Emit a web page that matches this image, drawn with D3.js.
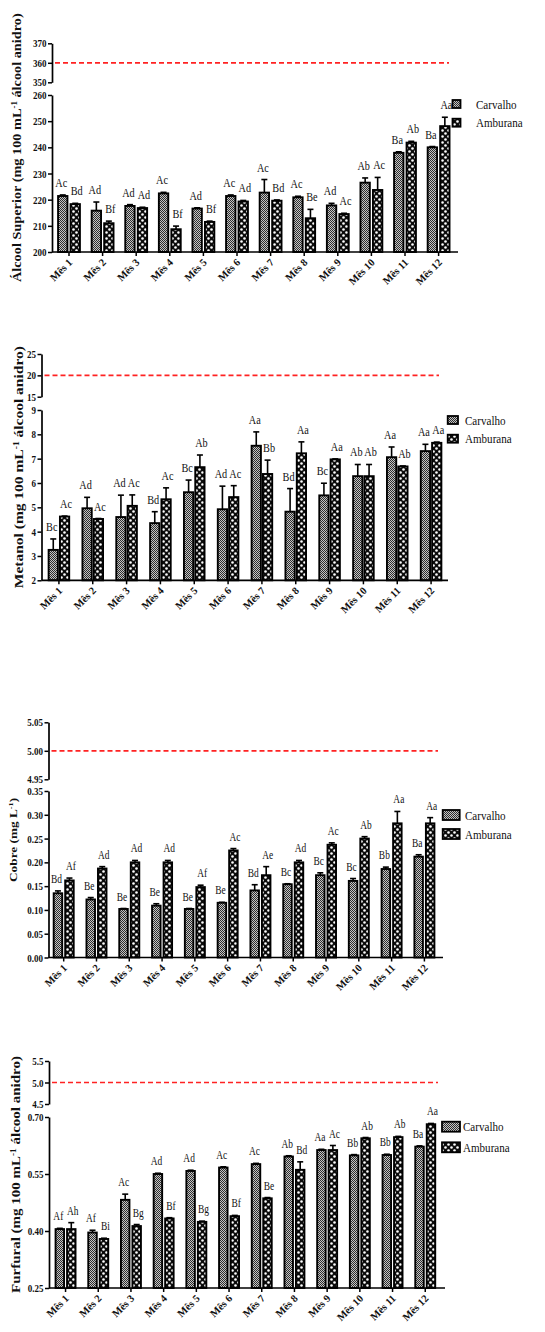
<!DOCTYPE html>
<html>
<head>
<meta charset="utf-8">
<script src="https://cdn.jsdelivr.net/npm/d3@7"></script>
<style>
  html, body { margin: 0; padding: 0; background: #fff; }
  svg { display: block; }
</style>
</head>
<body>
<svg id="chart" width="545" height="1332"></svg>
<script>
// ---- data ----
const months = ["Mês 1", "Mês 2", "Mês 3", "Mês 4", "Mês 5", "Mês 6", "Mês 7", "Mês 8", "Mês 9", "Mês 10", "Mês 11", "Mês 12"];
const series = ["Carvalho", "Amburana"];

// Álcool superior (mg 100 mL-1 álcool anidro)
const alcoolCarvalho    = [221.4, 215.8, 217.6, 222.4, 216.6, 221.4, 222.7, 220.9, 217.8, 226.5, 237.9, 240.0];
const alcoolCarvalhoErr = [0.4, 3.3, 0.5, 0.4, 0.3, 0.4, 5.0, 0.4, 0.8, 1.8, 0.4, 0.3];
const alcoolAmburana    = [218.3, 211.0, 216.8, 208.7, 211.5, 219.3, 219.6, 212.9, 214.5, 223.7, 241.8, 248.1];
const alcoolAmburanaErr = [0.3, 0.8, 0.3, 1.2, 0.3, 0.4, 0.3, 3.4, 0.3, 4.8, 0.5, 3.4];
const alcoolCarvalhoLetters = ["Ac", "Ad", "Ad", "Ac", "Ad", "Ac", "Ac", "Ac", "Ad", "Ab", "Ba", "Ba"];
const alcoolAmburanaLetters = ["Bd", "Bf", "Ad", "Bf", "Bf", "Ad", "Bd", "Be", "Ac", "Ac", "Ab", "Aa"];
const alcoolTopTicks = [350, 360, 370];
const alcoolTicks = [200, 210, 220, 230, 240, 250, 260];
const alcoolLimit = 360;

// Metanol (mg 100 mL-1 álcool anidro)
const metanolCarvalho    = [3.25, 4.96, 4.60, 4.35, 5.62, 4.92, 7.53, 4.82, 5.49, 6.28, 7.06, 7.31];
const metanolCarvalhoErr = [0.45, 0.45, 0.90, 0.47, 0.50, 0.95, 0.57, 0.95, 0.50, 0.48, 0.42, 0.28];
const metanolAmburana    = [4.62, 4.52, 5.06, 5.33, 6.65, 5.42, 6.37, 7.22, 6.97, 6.28, 6.68, 7.65];
const metanolAmburanaErr = [0.02, 0.02, 0.45, 0.47, 0.50, 0.47, 0.57, 0.47, 0.02, 0.48, 0.02, 0.03];
const metanolCarvalhoLetters = ["Bc", "Ad", "Ad", "Bd", "Bc", "Ad", "Aa", "Bd", "Bc", "Ab", "Aa", "Aa"];
const metanolAmburanaLetters = ["Ac", "Ac", "Ac", "Ac", "Ab", "Ac", "Bb", "Aa", "Aa", "Ab", "Ab", "Aa"];
const metanolTopTicks = [15, 20, 25];
const metanolTicks = [2, 3, 4, 5, 6, 7, 8, 9];
const metanolLimit = 20;

// Cobre (mg L-1)
const cobreCarvalho    = [0.135, 0.122, 0.102, 0.109, 0.102, 0.115, 0.141, 0.154, 0.173, 0.161, 0.186, 0.212];
const cobreCarvalhoErr = [0.005, 0.004, 0.001, 0.004, 0.001, 0.001, 0.012, 0.001, 0.005, 0.005, 0.004, 0.004];
const cobreAmburana    = [0.162, 0.187, 0.200, 0.200, 0.148, 0.225, 0.173, 0.200, 0.237, 0.250, 0.282, 0.282];
const cobreAmburanaErr = [0.005, 0.004, 0.004, 0.004, 0.004, 0.004, 0.018, 0.004, 0.004, 0.004, 0.025, 0.012];
const cobreCarvalhoLetters = ["Bd", "Be", "Be", "Be", "Be", "Be", "Bd", "Bc", "Bc", "Bc", "Bb", "Ba"];
const cobreAmburanaLetters = ["Af", "Ad", "Ad", "Ad", "Af", "Ac", "Ae", "Ad", "Ac", "Ab", "Aa", "Aa"];
const cobreTopTicks = [4.95, 5.00, 5.05];
const cobreTicks = [0.00, 0.05, 0.10, 0.15, 0.20, 0.25, 0.30, 0.35];
const cobreLimit = 5.00;

// Furfural (mg 100 mL-1 álcool anidro)
const furfuralCarvalho    = [0.405, 0.396, 0.482, 0.550, 0.558, 0.567, 0.576, 0.596, 0.613, 0.599, 0.600, 0.622];
const furfuralCarvalhoErr = [0.002, 0.006, 0.015, 0.002, 0.002, 0.002, 0.002, 0.002, 0.002, 0.002, 0.002, 0.002];
const furfuralAmburana    = [0.405, 0.379, 0.413, 0.433, 0.424, 0.439, 0.486, 0.561, 0.613, 0.644, 0.647, 0.681];
const furfuralAmburanaErr = [0.017, 0.002, 0.004, 0.002, 0.002, 0.002, 0.002, 0.021, 0.012, 0.002, 0.002, 0.002];
const furfuralCarvalhoLetters = ["Af", "Af", "Ac", "Ad", "Ad", "Ac", "Ac", "Ab", "Aa", "Bb", "Bb", "Ba"];
const furfuralAmburanaLetters = ["Ah", "Bi", "Bg", "Bf", "Bg", "Bf", "Be", "Bd", "Ac", "Ab", "Ab", "Aa"];
const furfuralTopTicks = [4.5, 5.0, 5.5];
const furfuralTicks = [0.25, 0.40, 0.55, 0.70];
const furfuralLimit = 5.0;

// ---- layout for each panel ----
const panels = [
  {
    title: ["Álcool Superior (mg 100 mL", "-1", " álcool anidro)"],
    values: [alcoolCarvalho, alcoolAmburana], errors: [alcoolCarvalhoErr, alcoolAmburanaErr],
    letters: [alcoolCarvalhoLetters, alcoolAmburanaLetters],
    topTicks: alcoolTopTicks, ticks: alcoolTicks, limit: alcoolLimit,
    topFmt: d3.format("d"), fmt: d3.format("d"),
    axisX: 52, band: [52.2, 455.4], xEnd: 458, redEnd: 449,
    topRange: [82.3, 43.3], mainRange: [252, 95],
    pi: 0.25, po: 0.47,
    titleX: 21, titleSize: 14.3, letterSize: 12.5,
    legend: { x: 452.5, w: 8, h: 8, y: [104, 122.7], tx: 476 }
  },
  {
    title: ["Metanol (mg 100 mL", "-1", " álcool anidro)"],
    values: [metanolCarvalho, metanolAmburana], errors: [metanolCarvalhoErr, metanolAmburanaErr],
    letters: [metanolCarvalhoLetters, metanolAmburanaLetters],
    topTicks: metanolTopTicks, ticks: metanolTicks, limit: metanolLimit,
    topFmt: d3.format("d"), fmt: d3.format("d"),
    axisX: 41.5, band: [42, 448], xEnd: 448, redEnd: 439,
    topRange: [396.7, 354], mainRange: [580.3, 410],
    pi: 0.18, po: 0.585,
    titleX: 23, titleSize: 15.5, letterSize: 12.5,
    legend: { x: 447.7, w: 10.3, h: 8, y: [420, 438.7], tx: 465 }
  },
  {
    title: ["Cobre (mg L", "-1", ")"],
    values: [cobreCarvalho, cobreAmburana], errors: [cobreCarvalhoErr, cobreAmburanaErr],
    letters: [cobreCarvalhoLetters, cobreAmburanaLetters],
    topTicks: cobreTopTicks, ticks: cobreTicks, limit: cobreLimit,
    topFmt: d3.format(".2f"), fmt: d3.format(".2f"),
    axisX: 48.5, band: [47.3, 440.8], xEnd: 443, redEnd: 438,
    topRange: [779.3, 722.3], mainRange: [957.5, 791],
    pi: 0.26, po: 0.555,
    titleX: 17, titleSize: 13.3, letterSize: 11.5,
    legend: { x: 442.7, w: 17, h: 10, y: [815, 834], tx: 465 }
  },
  {
    title: ["Furfural (mg 100 mL", "-1", " álcool anidro)"],
    values: [furfuralCarvalho, furfuralAmburana], errors: [furfuralCarvalhoErr, furfuralAmburanaErr],
    letters: [furfuralCarvalhoLetters, furfuralAmburanaLetters],
    topTicks: furfuralTopTicks, ticks: furfuralTicks, limit: furfuralLimit,
    topFmt: d3.format(".1f"), fmt: d3.format(".2f"),
    axisX: 49, band: [49.2, 441.6], xEnd: 445, redEnd: 438,
    topRange: [1104, 1061], mainRange: [1288, 1117],
    pi: 0.26, po: 0.555,
    titleX: 20, titleSize: 15, letterSize: 11.5,
    legend: { x: 442, w: 18, h: 10, y: [1126.7, 1147.3], tx: 463 }
  }
];

const serif = "'Liberation Serif', 'Times New Roman', serif";
const squeeze = 0.82;   // narrow glyph proportions of the printed figure
const svg = d3.select("#chart");

// ---- fill patterns ----
const defs = svg.append("defs");
const pC = defs.append("pattern").attr("id", "pat-carvalho")
  .attr("patternUnits", "userSpaceOnUse").attr("width", 2).attr("height", 2);
pC.append("rect").attr("width", 2).attr("height", 2).attr("fill", "#c4c4c4");
pC.append("rect").attr("x", 0).attr("y", 0).attr("width", 1).attr("height", 1).attr("fill", "#2e2e2e");
pC.append("rect").attr("x", 1).attr("y", 1).attr("width", 1).attr("height", 1).attr("fill", "#2e2e2e");

const pA = defs.append("pattern").attr("id", "pat-amburana")
  .attr("patternUnits", "userSpaceOnUse").attr("width", 6).attr("height", 6);
pA.append("rect").attr("width", 6).attr("height", 6).attr("fill", "#0c0c0c");
pA.append("circle").attr("cx", 1.5).attr("cy", 1.5).attr("r", 1.3).attr("fill", "#fff");
pA.append("circle").attr("cx", 4.5).attr("cy", 4.5).attr("r", 1.3).attr("fill", "#fff");

const fills = ["url(#pat-carvalho)", "url(#pat-amburana)"];

function styleAxis(g, size) {
  g.selectAll(".domain").attr("stroke", "#000").attr("stroke-width", 1.7);
  g.selectAll(".tick line").attr("stroke", "#000").attr("stroke-width", 1.5);
  g.selectAll(".tick text")
    .attr("font-family", serif).attr("font-weight", "bold")
    .attr("font-size", size).attr("fill", "#111")
    .attr("transform", `scale(${squeeze},1)`)
    .attr("x", -5.5 / squeeze);
}

panels.forEach(p => {
  const g = svg.append("g");

  const x = d3.scaleBand().domain(months).range(p.band).padding(0);
  const xs = d3.scaleBand().domain(series).range([0, x.bandwidth()])
    .paddingInner(p.pi).paddingOuter(p.po);
  const yTop = d3.scaleLinear().domain(d3.extent(p.topTicks)).range(p.topRange);
  const y = d3.scaleLinear().domain(d3.extent(p.ticks)).range(p.mainRange);
  const baseY = y(d3.min(p.ticks));

  // upper (broken) axis segment with the legal limit
  const gTop = g.append("g").attr("transform", `translate(${p.axisX},0)`)
    .call(d3.axisLeft(yTop).tickValues(p.topTicks).tickFormat(p.topFmt)
      .tickSize(4).tickSizeOuter(0).tickPadding(1));
  styleAxis(gTop, 11);

  g.append("line")
    .attr("x1", p.axisX + 3).attr("x2", p.redEnd)
    .attr("y1", yTop(p.limit)).attr("y2", yTop(p.limit))
    .attr("stroke", "#ff2222").attr("stroke-width", 1.7)
    .attr("stroke-dasharray", "5,3");

  // main y axis
  const gY = g.append("g").attr("transform", `translate(${p.axisX},0)`)
    .call(d3.axisLeft(y).tickValues(p.ticks).tickFormat(p.fmt)
      .tickSize(4).tickSizeOuter(0).tickPadding(1));
  styleAxis(gY, 11);

  // bars, error bars and significance letters
  series.forEach((s, si) => {
    const vals = p.values[si], errs = p.errors[si], lets = p.letters[si];
    const shift = si === 0 ? -1.5 : 1.5;
    months.forEach((m, i) => {
      const bx = x(m) + xs(s);
      const bw = xs.bandwidth();
      const top = y(vals[i]);
      const errTop = y(vals[i] + errs[i]);
      const cx = bx + bw / 2;
      g.append("line").attr("x1", cx).attr("x2", cx).attr("y1", top).attr("y2", errTop)
        .attr("stroke", "#000").attr("stroke-width", 1.6);
      g.append("line").attr("x1", cx - 3).attr("x2", cx + 3).attr("y1", errTop).attr("y2", errTop)
        .attr("stroke", "#000").attr("stroke-width", 1.6);
      g.append("rect")
        .attr("x", bx).attr("y", top).attr("width", bw).attr("height", baseY - top)
        .attr("fill", fills[si]).attr("stroke", "#000").attr("stroke-width", 1.9);
      g.append("text")
        .attr("transform", `translate(${cx + shift},${errTop - 8}) scale(${squeeze},1)`)
        .attr("text-anchor", "middle")
        .attr("font-family", serif).attr("font-size", p.letterSize).attr("fill", "#111")
        .text(lets[i]);
    });
  });

  // x axis
  const gX = g.append("g").attr("transform", `translate(0,${baseY})`)
    .call(d3.axisBottom(x).tickSize(4).tickSizeOuter(0));
  gX.select(".domain").remove();
  gX.append("line").attr("x1", p.axisX).attr("x2", p.xEnd).attr("y1", 0).attr("y2", 0)
    .attr("stroke", "#000").attr("stroke-width", 1.7);
  gX.selectAll(".tick line").attr("stroke", "#000").attr("stroke-width", 1.5);
  gX.selectAll(".tick text")
    .attr("font-family", serif).attr("font-weight", "bold").attr("font-size", 10.5)
    .attr("fill", "#111")
    .attr("text-anchor", "end")
    .attr("dy", null).attr("y", null)
    .attr("transform", "translate(4,11) rotate(-45)");

  // y title
  const midY = (p.topRange[1] + p.mainRange[0]) / 2;
  const t = g.append("text")
    .attr("transform", `translate(${p.titleX},${midY}) scale(${squeeze},1) rotate(-90)`)
    .attr("text-anchor", "middle")
    .attr("font-family", serif).attr("font-weight", "bold")
    .attr("font-size", p.titleSize).attr("fill", "#111");
  t.append("tspan").text(p.title[0]);
  t.append("tspan").attr("dy", -5.5).attr("font-size", p.titleSize * 0.62).text(p.title[1]);
  t.append("tspan").attr("dy", 5.5).text(p.title[2]);

  // legend
  series.forEach((s, si) => {
    g.append("rect")
      .attr("x", p.legend.x).attr("y", p.legend.y[si] - p.legend.h / 2)
      .attr("width", p.legend.w).attr("height", p.legend.h)
      .attr("fill", fills[si]).attr("stroke", "#000").attr("stroke-width", 1.8);
    g.append("text")
      .attr("transform", `translate(${p.legend.tx},${p.legend.y[si]}) scale(${squeeze},1)`)
      .attr("dy", "0.35em")
      .attr("font-family", serif).attr("font-size", 13.5).attr("fill", "#111")
      .text(s);
  });
});
</script>
</body>
</html>
